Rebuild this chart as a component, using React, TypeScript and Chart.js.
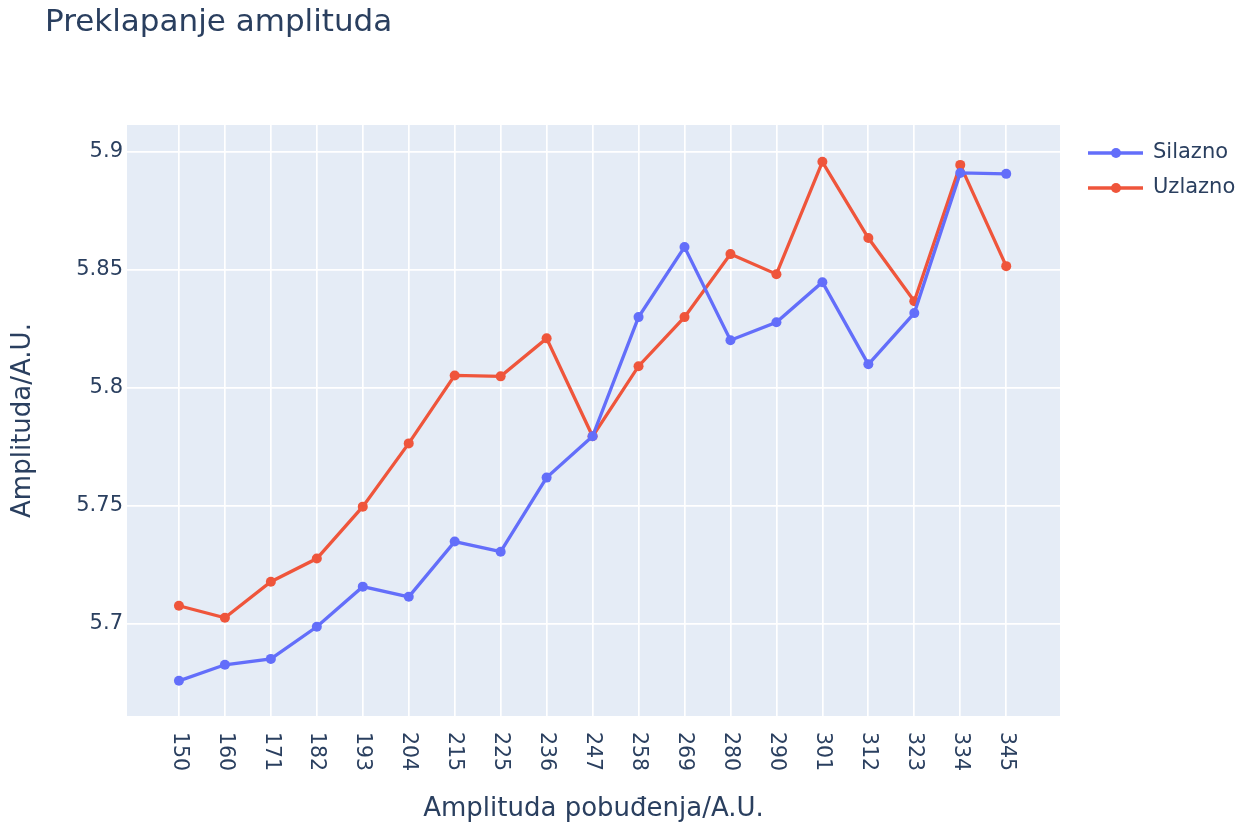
import React, { useEffect, useRef } from "react";
import { Chart, registerables } from "chart.js";

Chart.register(...registerables);

const categories = ["150", "160", "171", "182", "193", "204", "215", "225", "236", "247", "258", "269", "280", "290", "301", "312", "323", "334", "345"];
const silazno = [5.6759, 5.6827, 5.6852, 5.6988, 5.7158, 5.7115, 5.7349, 5.7306, 5.762, 5.7795, 5.83, 5.8597, 5.8202, 5.8278, 5.8448, 5.81, 5.8317, 5.8911, 5.8907];
const uzlazno = [5.7077, 5.7026, 5.7179, 5.7277, 5.7497, 5.7765, 5.8053, 5.8049, 5.821, 5.7795, 5.8092, 5.83, 5.8567, 5.8482, 5.8958, 5.8635, 5.8367, 5.8945, 5.8516];
const yTicks = [5.7, 5.75, 5.8, 5.85, 5.9];
const seriesNames = ["Silazno", "Uzlazno"];
const seriesColors = ["#636efa", "#EF553B"];

const titleText = "Preklapanje amplituda";
const xTitle = "Amplituda pobuđenja/A.U.";
const yTitle = "Amplituda/A.U.";

const FONT = "'DejaVu Sans', Verdana, sans-serif";
const TEXT = "#2a3f5f";

export default function App() {
  const ref = useRef<HTMLCanvasElement | null>(null);
  useEffect(() => {
    const canvas = ref.current!;
    const decor = {
      id: "decor",
      beforeDraw(chart: any) {
        const { ctx, chartArea } = chart;
        ctx.save();
        ctx.fillStyle = "#E5ECF6";
        ctx.fillRect(chartArea.left, chartArea.top, chartArea.right - chartArea.left, chartArea.bottom - chartArea.top);
        ctx.restore();
      },
      afterDraw(chart: any) {
        const { ctx, chartArea } = chart;
        const xs = chart.scales.x;
        ctx.save();
        ctx.fillStyle = TEXT;
        // title
        ctx.font = `31px ${FONT}`;
        ctx.textAlign = "left";
        ctx.textBaseline = "middle";
        ctx.fillText(titleText, 45, 23);
        // x tick labels rotated clockwise
        ctx.font = `20.5px ${FONT}`;
        categories.forEach((c, i) => {
          const px = xs.getPixelForValue(i);
          ctx.save();
          ctx.translate(px, chartArea.bottom + 16);
          ctx.rotate(Math.PI / 2);
          ctx.textAlign = "left";
          ctx.textBaseline = "middle";
          ctx.fillText(c, 0, 0);
          ctx.restore();
        });
        // axis titles
        ctx.font = `26px ${FONT}`;
        ctx.textAlign = "center";
        ctx.textBaseline = "middle";
        ctx.fillText(xTitle, (chartArea.left + chartArea.right) / 2, 809);
        ctx.save();
        ctx.translate(23, (chartArea.top + chartArea.bottom) / 2);
        ctx.rotate(-Math.PI / 2);
        ctx.fillText(yTitle, 0, 0);
        ctx.restore();
        // legend
        seriesNames.forEach((n, i) => {
          const y = 153 + i * 35;
          ctx.strokeStyle = seriesColors[i];
          ctx.lineWidth = 3.3;
          ctx.beginPath();
          ctx.moveTo(1088, y);
          ctx.lineTo(1143, y);
          ctx.stroke();
          ctx.fillStyle = seriesColors[i];
          ctx.beginPath();
          ctx.arc(1116, y, 5, 0, Math.PI * 2);
          ctx.fill();
          ctx.fillStyle = TEXT;
          ctx.font = `21px ${FONT}`;
          ctx.textAlign = "left";
          ctx.textBaseline = "middle";
          ctx.fillText(n, 1153, y);
        });
        ctx.restore();
      },
    };
    const chart = new Chart(canvas, {
      type: "line",
      data: {
        datasets: [silazno, uzlazno].map((arr, k) => ({
          label: seriesNames[k],
          data: arr.map((v, i) => ({ x: i, y: v })),
          borderColor: seriesColors[k],
          backgroundColor: seriesColors[k],
          borderWidth: 3.3,
          pointRadius: 5,
          pointBorderWidth: 0,
          pointHoverRadius: 5,
          tension: 0,
          fill: false,
        })),
      },
      options: {
        animation: false,
        responsive: false,
        devicePixelRatio: 1,
        layout: { padding: { top: 125, right: 191, left: 0, bottom: 0 } },
        plugins: { legend: { display: false }, tooltip: { enabled: false }, title: { display: false } },
        scales: {
          x: {
            type: "linear",
            min: -1.13,
            max: 19.17,
            afterBuildTicks: (s: any) => {
              s.ticks = categories.map((_, i) => ({ value: i }));
            },
            afterFit: (s: any) => {
              s.height = 110;
            },
            ticks: { display: false },
            grid: { color: "#ffffff", lineWidth: 1.7, drawTicks: false },
            border: { display: false },
          },
          y: {
            type: "linear",
            min: 5.661,
            max: 5.9114,
            afterBuildTicks: (s: any) => {
              s.ticks = yTicks.map((v) => ({ value: v }));
            },
            afterFit: (s: any) => {
              s.width = 127;
            },
            ticks: {
              font: { family: FONT, size: 21 },
              color: TEXT,
              padding: 4,
              callback: (v: any) => String(v),
            },
            grid: { color: "#ffffff", lineWidth: 1.7, drawTicks: false },
            border: { display: false },
          },
        },
      },
      plugins: [decor],
    });
    return () => chart.destroy();
  }, []);
  return (
    <div style={{ position: "absolute", left: 0, top: 0, width: 1251, height: 826, background: "#fff" }}>
      <canvas ref={ref} width={1251} height={826} style={{ width: 1251, height: 826 }} />
    </div>
  );
}
